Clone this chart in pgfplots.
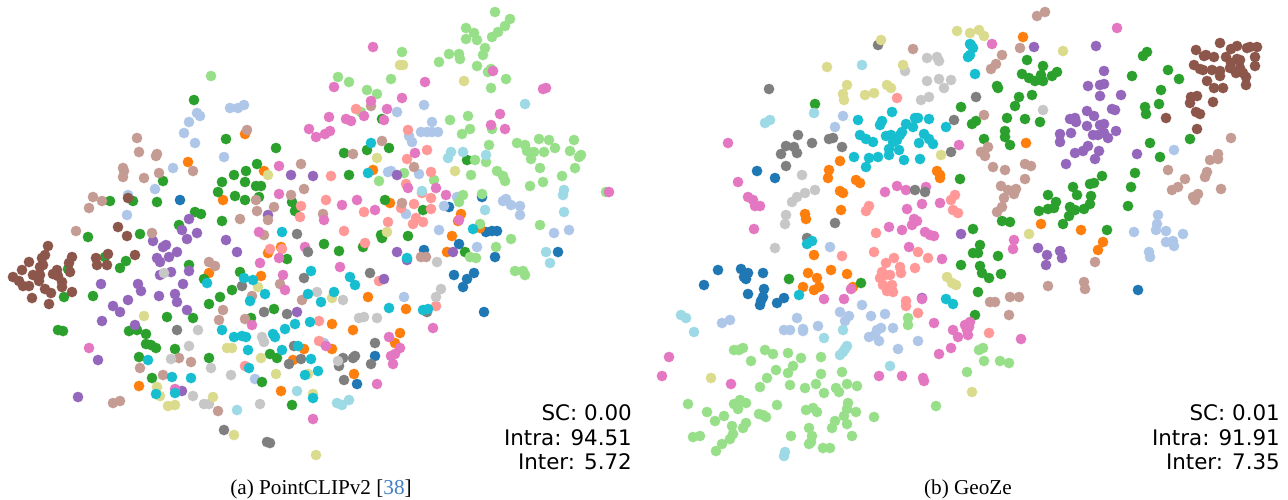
\documentclass[border=0pt]{standalone}
\usepackage{pgfplots}
\pgfplotsset{compat=1.18}
\usepackage{fontspec}
\setmainfont{Liberation Serif}
\newfontfamily\djvfont{DejaVu Sans}
\definecolor{cBlue}{HTML}{1F77B4}
\definecolor{cLtBlue}{HTML}{AEC7E8}
\definecolor{cOrange}{HTML}{FF7F0E}
\definecolor{cGreen}{HTML}{2CA02C}
\definecolor{cLtGreen}{HTML}{98DF8A}
\definecolor{cSalmon}{HTML}{FF9896}
\definecolor{cPurple}{HTML}{9467BD}
\definecolor{cBrown}{HTML}{8C564B}
\definecolor{cLtBrown}{HTML}{C49C94}
\definecolor{cPink}{HTML}{E377C2}
\definecolor{cGray}{HTML}{7F7F7F}
\definecolor{cLtGray}{HTML}{C7C7C7}
\definecolor{cKhaki}{HTML}{DBDB8D}
\definecolor{cCyan}{HTML}{17BECF}
\definecolor{cLtCyan}{HTML}{9EDAE5}
\definecolor{cCite}{HTML}{3F7FBF}
\newcommand{\pts}[2]{\addplot[only marks,mark=*,mark size=5.2pt,color=#1,line width=0.2pt,forget plot] coordinates {#2};}
\pgfplotsset{panel/.style={scale only axis,width=644pt,height=499pt,hide axis,clip=false,y dir=reverse,ymin=0,ymax=499,anchor=south west}}
\tikzset{metric/.style={anchor=base east,inner sep=0pt,font=\djvfont\fontsize{21.4}{24}\selectfont},capt/.style={anchor=base,inner sep=0pt,font=\fontsize{21.2}{24}\selectfont}}
\begin{document}
\begin{tikzpicture}[x=1pt,y=1pt]
\path[use as bounding box] (0,0) rectangle (1288,499);
\begin{axis}[panel,at={(0pt,0pt)},xmin=0,xmax=644]
\pts{cBlue}{(180,200)(482,197)(449,207)(486,232)(492,231)(497,231)(459,244)(424,250)(558,252)(454,275)(474,273)(467,279)(463,287)(495,257)(484,312)(375,356)(357,384)}
\pts{cLtBlue}{(230,108)(238,108)(244,105)(197,113)(200,116)(189,122)(184,133)(195,143)(224,157)(173,168)(155,189)(128,195)(127,215)(397,112)(424,105)(432,122)(421,132)(427,132)(432,132)(438,132)(409,136)(412,142)(388,172)(391,171)(419,174)(457,197)(444,206)(406,214)(506,199)(503,201)(511,205)(520,206)(520,215)(439,230)(554,233)(569,230)(477,247)(255,379)(404,297)(324,343)}
\pts{cOrange}{(245,134)(188,162)(264,171)(223,200)(281,247)(373,170)(390,203)(461,214)(458,221)(452,236)(480,228)(447,252)(209,273)(268,253)(261,276)(304,349)(293,360)(139,386)(281,391)(368,297)(406,309)(332,324)(353,330)(400,333)(395,343)(332,349)(354,374)}
\pts{cGreen}{(194,100)(226,139)(276,148)(257,164)(246,171)(234,175)(222,182)(245,182)(256,186)(261,186)(218,192)(235,196)(245,200)(259,197)(292,202)(295,211)(163,181)(110,201)(133,201)(157,202)(195,212)(201,214)(222,221)(179,225)(88,237)(140,234)(382,119)(344,153)(367,150)(389,148)(467,160)(349,175)(385,200)(423,210)(381,235)(382,238)(408,236)(324,244)(339,251)(363,247)(465,252)(68,269)(64,297)(93,296)(126,261)(120,268)(105,257)(58,330)(63,331)(129,331)(137,330)(146,334)(146,344)(151,345)(156,348)(175,349)(139,357)(167,317)(193,318)(189,265)(204,279)(209,304)(220,297)(232,290)(240,272)(287,259)(274,309)(251,318)(270,354)(277,358)(209,358)(152,378)(262,382)(292,405)}
\pts{cLtGreen}{(211,76)(495,12)(510,19)(505,26)(498,32)(492,37)(466,28)(474,33)(466,39)(477,40)(485,48)(483,55)(459,54)(449,54)(460,59)(439,62)(477,66)(491,69)(488,72)(506,79)(491,88)(402,52)(391,79)(338,77)(349,82)(367,90)(377,94)(361,112)(450,120)(468,116)(470,129)(462,134)(492,129)(489,145)(517,143)(525,145)(539,139)(549,140)(574,140)(555,148)(570,151)(581,155)(579,157)(527,151)(534,152)(544,152)(531,159)(475,160)(486,162)(575,168)(540,168)(562,176)(497,171)(503,176)(505,181)(471,175)(530,186)(543,182)(404,173)(434,180)(379,181)(606,192)(463,195)(459,202)(482,194)(540,225)(480,224)(511,239)(496,247)(470,257)(476,258)(515,271)(523,271)(525,275)}
\pts{cSalmon}{(301,206)(300,217)(270,249)(282,249)(356,109)(408,130)(427,150)(407,159)(331,176)(431,172)(406,184)(422,193)(326,200)(431,198)(414,204)(401,208)(364,212)(431,209)(388,222)(416,218)(413,224)(423,222)(344,231)(365,243)(245,366)(319,321)(319,341)(379,281)(436,306)}
\pts{cPurple}{(291,175)(313,176)(189,219)(268,215)(182,230)(197,233)(187,239)(153,241)(166,245)(163,247)(226,240)(177,252)(237,252)(397,175)(397,252)(453,252)(101,284)(138,284)(141,291)(128,300)(113,306)(120,312)(102,321)(135,325)(98,360)(78,397)(157,258)(160,262)(169,257)(160,275)(171,272)(189,271)(183,284)(159,296)(175,294)(177,302)(187,310)(297,312)(182,391)(384,279)(407,260)}
\pts{cBrown}{(128,198)(118,227)(127,236)(48,246)(45,255)(42,258)(29,262)(22,270)(43,265)(40,267)(13,277)(19,281)(23,286)(29,286)(33,275)(40,275)(39,281)(45,289)(51,293)(32,298)(49,304)(57,270)(53,274)(58,276)(62,282)(62,287)(72,257)(69,263)(70,272)(72,292)(96,258)(97,265)(108,254)(107,265)(135,255)}
\pts{cLtBrown}{(247,130)(137,138)(139,152)(157,154)(156,156)(123,168)(124,171)(123,177)(159,173)(144,178)(193,171)(301,164)(304,189)(291,195)(256,200)(257,211)(274,207)(240,219)(268,220)(93,197)(102,201)(89,208)(76,231)(152,233)(264,235)(371,106)(382,141)(353,154)(414,167)(402,203)(323,214)(209,262)(215,266)(280,284)(252,296)(302,300)(223,310)(219,320)(245,319)(179,358)(191,362)(140,368)(163,375)(113,403)(120,401)(218,411)(421,257)(426,257)}
\pts{cPink}{(309,129)(316,137)(279,166)(279,194)(259,232)(305,247)(373,47)(425,82)(493,71)(334,87)(371,101)(402,98)(387,109)(364,116)(329,117)(346,119)(351,121)(384,120)(330,131)(325,134)(543,89)(546,88)(500,114)(491,125)(505,129)(415,153)(408,188)(436,188)(446,195)(357,200)(342,205)(375,210)(324,220)(459,220)(609,192)(260,263)(279,258)(283,275)(285,290)(252,325)(89,348)(175,389)(313,419)(340,267)(389,337)(400,348)(433,328)(395,354)(391,356)(393,364)(377,384)(326,346)}
\pts{cGray}{(297,234)(308,252)(177,330)(304,278)(242,286)(264,312)(287,314)(294,346)(301,359)(289,364)(224,430)(267,442)(270,443)(370,273)(427,312)(375,343)(343,358)(353,358)(355,356)(339,366)(371,364)(344,380)}
\pts{cLtGray}{(164,273)(198,330)(189,346)(171,359)(211,368)(231,375)(193,396)(204,404)(209,404)(260,404)(262,337)(264,342)(317,292)(437,262)(441,289)(436,297)(343,300)(359,318)(364,317)(377,318)(338,361)}
\pts{cKhaki}{(268,175)(400,65)(403,65)(464,81)(377,158)(455,171)(387,232)(144,316)(258,287)(227,348)(232,348)(261,358)(276,374)(308,374)(157,387)(160,396)(168,406)(175,405)(213,397)(313,394)(234,435)(316,455)(332,298)}
\pts{cCyan}{(282,232)(371,143)(368,173)(473,229)(207,283)(244,278)(253,280)(265,294)(250,301)(311,271)(308,294)(321,302)(222,330)(234,337)(242,336)(246,337)(248,350)(273,334)(275,337)(285,329)(295,324)(310,322)(282,350)(298,346)(311,359)(249,368)(305,375)(318,371)(148,360)(172,377)(191,378)(156,394)(175,393)(313,398)(407,258)(350,277)(355,285)(334,292)(389,308)(423,310)(428,309)}
\pts{cLtCyan}{(525,104)(451,152)(448,158)(463,152)(486,155)(422,191)(485,210)(564,190)(563,195)(564,212)(546,252)(550,263)(337,403)(342,405)(349,400)(297,391)(237,410)}
\node[metric] at (axis cs:632,420) {SC: 0.00};
\node[metric] at (axis cs:632,445) {Intra: 94.51};
\node[metric] at (axis cs:632,469) {Inter: 5.72};
\node[capt] at (axis cs:321,494) {(a) PointCLIPv2 [\textcolor{cCite}{38}]};
\end{axis}
\begin{axis}[panel,at={(644pt,0pt)},xmin=644,xmax=1288]
\pts{cBlue}{(757,171)(775,178)(718,270)(741,269)(704,285)(748,273)(744,277)(746,279)(763,273)(764,289)(748,294)(763,297)(761,301)(760,305)(784,298)(777,303)(1138,290)}
\pts{cLtBlue}{(843,116)(835,127)(830,247)(1174,150)(1158,215)(1157,224)(1156,230)(1166,231)(1183,234)(1134,232)(1166,242)(1173,241)(1174,246)(1149,252)(1150,257)(722,323)(730,320)(784,330)(790,330)(797,318)(803,329)(803,331)(818,326)(840,312)(849,316)(845,321)(862,305)(871,316)(885,314)(881,328)(877,330)(869,337)(875,335)(879,341)(893,328)(898,349)(918,341)}
\pts{cOrange}{(840,161)(829,170)(828,178)(856,180)(860,183)(840,191)(843,193)(841,210)(805,214)(806,219)(937,171)(940,175)(940,178)(1023,37)(1026,143)(1041,224)(1081,230)(1103,242)(1098,250)(814,255)(808,273)(831,270)(847,274)(817,278)(803,287)(819,287)(814,290)(853,287)}
\pts{cGreen}{(815,104)(961,107)(972,124)(960,179)(973,229)(1143,56)(1147,52)(1027,60)(1043,66)(1022,74)(1029,78)(1035,81)(1041,75)(1043,81)(1052,76)(1057,72)(997,86)(998,88)(1032,95)(1019,97)(1015,106)(1132,76)(1168,70)(1179,79)(1161,90)(1159,104)(1145,107)(1146,114)(1007,118)(1025,119)(1040,122)(976,121)(1005,131)(1005,137)(1010,145)(984,139)(1150,143)(1160,157)(1190,139)(1135,173)(1102,176)(1131,187)(1090,184)(1094,183)(1073,187)(1048,195)(1077,195)(1091,196)(1056,202)(1090,204)(1128,206)(1039,211)(1048,209)(1054,208)(1070,207)(1075,210)(1084,209)(1069,216)(1002,221)(1010,222)(1063,224)(1107,230)(980,245)(789,279)(861,283)(961,265)(973,253)(998,256)(978,253)(980,266)(982,273)(989,278)(1001,274)(978,292)(975,315)}
\pts{cLtGreen}{(908,318)(908,325)(743,348)(739,350)(734,350)(765,350)(773,354)(751,361)(788,353)(801,358)(793,366)(821,357)(776,370)(788,373)(767,378)(821,374)(842,372)(760,387)(790,385)(805,388)(816,384)(824,393)(836,388)(839,392)(847,384)(857,386)(967,372)(688,404)(707,412)(715,421)(724,416)(734,404)(740,400)(746,403)(738,409)(777,405)(759,414)(763,415)(766,417)(806,410)(813,408)(817,412)(848,403)(847,409)(856,412)(844,416)(874,417)(936,406)(835,421)(832,428)(847,424)(732,426)(746,423)(743,428)(733,434)(730,439)(693,437)(700,436)(791,436)(809,428)(812,436)(811,442)(809,444)(852,436)(722,444)(716,451)(823,448)(830,448)(979,350)(983,348)(984,361)(1000,361)(1009,363)}
\pts{cSalmon}{(897,98)(869,206)(866,211)(955,195)(951,200)(953,210)(958,213)(876,233)(874,252)(918,252)(842,256)(894,258)(928,258)(886,263)(900,267)(915,268)(882,272)(885,275)(901,273)(890,275)(880,278)(883,285)(892,285)(887,291)(893,292)(906,301)(906,306)(918,313)(989,333)}
\pts{cPurple}{(961,234)(1034,47)(1096,46)(1104,71)(1088,86)(1100,85)(1104,84)(1121,95)(1100,96)(1087,111)(1112,109)(1115,110)(1094,116)(1070,119)(1075,118)(1076,122)(1087,126)(1100,125)(1104,124)(1071,133)(1060,134)(1060,142)(1093,135)(1098,135)(1104,133)(1108,138)(1116,131)(1088,146)(1083,151)(1075,153)(1099,151)(1095,159)(1066,164)(1137,154)(1038,248)(1060,251)(922,298)(1047,255)(1062,258)(1046,265)}
\pts{cBrown}{(1220,43)(1196,50)(1237,46)(1231,49)(1250,47)(1257,47)(1247,48)(1206,55)(1214,57)(1204,56)(1226,57)(1255,57)(1237,59)(1240,60)(1231,63)(1194,65)(1255,66)(1200,69)(1203,70)(1212,70)(1220,71)(1230,68)(1236,73)(1240,68)(1243,73)(1220,76)(1246,77)(1207,81)(1246,85)(1214,88)(1223,88)(1197,96)(1191,97)(1190,103)(1213,102)(1196,112)(1200,114)(1166,118)(1197,129)}
\pts{cLtBrown}{(913,49)(1045,12)(1037,16)(1020,48)(1002,55)(996,64)(991,69)(984,115)(988,147)(981,152)(985,156)(993,167)(1005,170)(1025,164)(1031,166)(1025,179)(1001,186)(1008,190)(1016,189)(1014,194)(1004,198)(1002,207)(997,212)(1231,138)(1218,154)(1218,159)(1210,160)(1168,170)(1207,172)(1205,177)(1185,179)(1178,187)(1172,190)(1221,189)(1198,194)(1193,197)(1195,200)(1095,262)(1048,286)(1084,282)(1085,289)(1010,297)(1019,297)(990,302)(995,302)(1009,315)}
\pts{cPink}{(728,143)(959,145)(738,182)(748,197)(753,200)(755,206)(760,206)(754,229)(885,192)(897,186)(906,190)(926,187)(940,203)(922,204)(907,209)(914,219)(917,221)(912,225)(889,227)(902,230)(925,232)(930,235)(934,236)(909,247)(1117,28)(992,44)(1014,240)(1013,249)(824,299)(844,299)(851,289)(922,299)(942,259)(934,323)(953,330)(958,337)(965,325)(967,330)(951,348)(939,354)(669,357)(662,376)(731,384)(879,376)(902,376)(923,378)(924,381)(968,335)(970,322)(969,327)(1021,339)}
\pts{cGray}{(878,45)(769,89)(798,135)(812,143)(829,139)(833,138)(842,147)(786,146)(794,147)(781,154)(797,153)(786,166)(954,120)(951,152)(915,190)(925,192)(835,223)(807,238)(976,97)}
\pts{cLtGray}{(927,58)(937,57)(939,61)(905,71)(927,81)(939,79)(951,80)(944,88)(921,100)(929,97)(802,175)(815,190)(805,193)(797,197)(792,202)(786,215)(785,224)(775,248)(1043,110)}
\pts{cKhaki}{(957,31)(970,33)(881,40)(827,67)(903,65)(847,85)(843,94)(844,100)(865,95)(874,93)(887,85)(891,88)(941,155)(979,30)(984,36)(1063,51)(1029,234)(947,277)(952,283)(956,285)(711,378)(972,392)}
\pts{cCyan}{(970,44)(968,57)(892,112)(858,120)(882,121)(880,125)(906,124)(913,127)(915,118)(918,118)(929,119)(946,127)(902,132)(900,135)(860,135)(866,139)(873,142)(886,136)(891,135)(897,140)(893,142)(924,134)(929,139)(933,144)(919,143)(889,149)(899,150)(889,155)(854,157)(869,158)(878,157)(904,160)(920,159)(866,167)(812,241)(807,244)(971,45)(973,48)(970,55)(975,74)(799,295)(946,299)(953,304)}
\pts{cLtCyan}{(862,65)(814,113)(765,123)(770,120)(681,315)(686,318)(694,332)(843,330)(824,338)(847,346)(845,349)(843,352)(840,355)(890,366)(785,452)(784,456)}
\node[metric] at (axis cs:1280,420) {SC: 0.01};
\node[metric] at (axis cs:1280,445) {Intra: 91.91};
\node[metric] at (axis cs:1280,469) {Inter: 7.35};
\node[capt] at (axis cs:968,494) {(b) GeoZe};
\end{axis}
\end{tikzpicture}
\end{document}
